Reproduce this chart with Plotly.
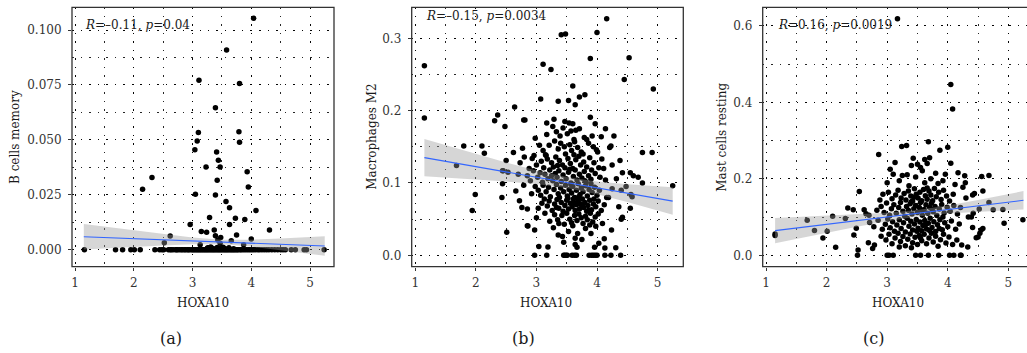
import plotly.graph_objects as go

# ---------------- data ----------------
x_ticks = [1, 2, 3, 4, 5]
a_yticks = [0.0, 0.025, 0.05, 0.075, 0.1]
b_yticks = [0.0, 0.1, 0.2, 0.3]
c_yticks = [0.0, 0.2, 0.4, 0.6]

y_titles = ["B cells memory", "Macrophages M2", "Mast cells resting"]
x_title = "HOXA10"
captions = ["(a)", "(b)", "(c)"]
stats = ["<i>R</i>=–0.11, <i>p</i>=0.04",
         "<i>R</i>=–0.15, <i>p</i>=0.0034",
         "<i>R</i>=0.16, <i>p</i>=0.0019"]

# Panel (a): B cells memory vs HOXA10
bcell_points = [
    (4.04, 0.1053), (3.58, 0.0909), (3.11, 0.0771), (3.80, 0.0756), (3.39, 0.0646),
    (3.10, 0.0533), (3.79, 0.0537), (3.08, 0.0495), (3.80, 0.0489), (3.04, 0.0455),
    (3.41, 0.0445), (3.44, 0.0407), (3.23, 0.0376), (3.47, 0.0376), (3.93, 0.0355),
    (3.42, 0.0316), (2.31, 0.0329), (3.95, 0.0285), (2.15, 0.0275), (3.05, 0.0252),
    (3.39, 0.0249), (3.57, 0.0219), (3.63, 0.0191), (4.08, 0.0178), (3.29, 0.0147),
    (3.73, 0.0143), (3.89, 0.0138), (2.96, 0.0115), (3.63, 0.0115), (4.31, 0.0090),
    (3.37, 0.0090), (3.15, 0.0083), (3.24, 0.0079), (3.75, 0.0067), (2.62, 0.0062),
    (3.39, 0.0064), (3.48, 0.0055), (4.00, 0.0049), (3.43, 0.0044), (3.66, 0.0041),
    (2.52, 0.0032), (3.47, 0.0029), (3.13, 0.0023), (3.87, 0.0023), (3.26, 0.0009),
    (3.28, 0.0008), (3.35, 0.0006), (3.42, 0.0010), (3.47, 0.0007), (3.55, 0.0005),
    (3.62, 0.0009), (3.31, 0.0012), (3.70, 0.0004), (3.25, 0.0005), (3.52, 0.0011),
    (1.16, 0.0), (1.69, 0.0), (1.81, 0.0), (1.95, 0.0), (2.01, 0.0), (2.11, 0.0),
    (2.36, 0.0), (2.44, 0.0), (2.48, 0.0), (2.51, 0.0), (2.59, 0.0), (2.62, 0.0),
    (2.64, 0.0), (2.67, 0.0), (2.71, 0.0), (2.73, 0.0), (2.75, 0.0), (2.78, 0.0),
    (2.81, 0.0), (2.83, 0.0), (2.86, 0.0), (2.88, 0.0), (2.91, 0.0), (2.93, 0.0),
    (2.95, 0.0), (2.98, 0.0), (3.00, 0.0), (3.02, 0.0), (3.04, 0.0), (3.06, 0.0),
    (3.08, 0.0), (3.10, 0.0), (3.12, 0.0), (3.14, 0.0), (3.16, 0.0), (3.18, 0.0),
    (3.20, 0.0), (3.22, 0.0), (3.24, 0.0), (3.26, 0.0), (3.28, 0.0), (3.30, 0.0),
    (3.32, 0.0), (3.34, 0.0), (3.36, 0.0), (3.38, 0.0), (3.40, 0.0), (3.42, 0.0),
    (3.44, 0.0), (3.46, 0.0), (3.48, 0.0), (3.50, 0.0), (3.52, 0.0), (3.54, 0.0),
    (3.56, 0.0), (3.58, 0.0), (3.60, 0.0), (3.62, 0.0), (3.64, 0.0), (3.66, 0.0),
    (3.68, 0.0), (3.70, 0.0), (3.72, 0.0), (3.74, 0.0), (3.76, 0.0), (3.78, 0.0),
    (3.81, 0.0), (3.83, 0.0), (3.86, 0.0), (3.89, 0.0), (3.92, 0.0), (3.95, 0.0),
    (3.98, 0.0), (4.01, 0.0), (4.04, 0.0), (4.07, 0.0), (4.11, 0.0), (4.14, 0.0),
    (4.18, 0.0), (4.22, 0.0), (4.26, 0.0), (4.30, 0.0), (4.35, 0.0), (4.40, 0.0),
    (4.45, 0.0), (4.50, 0.0), (4.54, 0.0), (4.58, 0.0), (4.68, 0.0), (4.75, 0.0),
    (4.90, 0.0), (4.94, 0.0), (5.24, 0.0),
]

# Panel (b): Macrophages M2 vs HOXA10
macro_points = [
    (1.15, 0.262), (1.15, 0.190), (4.16, 0.327), (4.00, 0.308), (3.48, 0.306),
    (3.41, 0.305), (3.11, 0.264), (3.24, 0.257), (3.89, 0.272), (4.53, 0.273),
    (4.45, 0.243), (4.93, 0.230), (3.60, 0.234), (3.07, 0.216), (3.53, 0.214),
    (3.36, 0.213), (3.64, 0.208), (3.71, 0.219), (3.80, 0.222), (2.64, 0.205),
    (2.36, 0.194), (2.31, 0.186), (2.48, 0.178), (2.79, 0.187), (2.81, 0.187),
    (3.89, 0.191), (3.97, 0.182), (4.14, 0.175), (3.17, 0.183), (3.29, 0.188),
    (3.47, 0.185), (3.54, 0.183), (3.60, 0.182), (3.65, 0.173), (1.80, 0.151),
    (2.10, 0.151), (2.14, 0.141), (1.68, 0.124), (4.75, 0.142), (5.25, 0.096),
    (2.51, 0.032), (2.45, 0.117), (2.50, 0.131), (4.28, 0.165), (4.91, 0.142),
    # y 0.16-0.18
    (2.98, 0.162), (3.17, 0.167), (3.33, 0.171), (3.51, 0.168), (3.62, 0.160),
    (3.83, 0.160), (3.92, 0.165), (3.71, 0.175), (3.44, 0.176), (3.27, 0.178),
    (3.57, 0.172), (4.07, 0.164), (3.79, 0.163), (3.39, 0.165),
    # y 0.14-0.16
    (2.62, 0.142), (2.77, 0.148), (3.11, 0.145), (3.16, 0.138), (3.21, 0.152),
    (3.36, 0.147), (3.40, 0.155), (3.46, 0.150), (3.55, 0.153), (3.58, 0.145),
    (3.63, 0.157), (3.68, 0.149), (3.74, 0.143), (3.86, 0.155), (3.94, 0.150),
    (4.01, 0.143), (4.21, 0.149), (4.23, 0.151), (3.30, 0.158), (3.05, 0.152),
    (3.48, 0.140), (3.77, 0.140), (3.99, 0.146),
    # y 0.12-0.14
    (2.73, 0.128), (2.80, 0.136), (2.93, 0.134), (2.96, 0.138), (3.00, 0.125),
    (3.08, 0.130), (3.12, 0.121), (3.18, 0.133), (3.25, 0.128), (3.28, 0.122),
    (3.32, 0.136), (3.38, 0.131), (3.43, 0.125), (3.47, 0.121), (3.52, 0.134),
    (3.56, 0.127), (3.60, 0.120), (3.65, 0.132), (3.70, 0.137), (3.73, 0.125),
    (3.78, 0.129), (3.83, 0.122), (3.88, 0.135), (3.95, 0.128), (4.03, 0.121),
    (4.08, 0.133), (4.11, 0.120), (4.25, 0.125), (4.38, 0.131), (3.15, 0.139),
    (3.35, 0.124), (3.62, 0.139), (2.88, 0.120), (3.91, 0.118),
    # y 0.10-0.12
    (2.44, 0.117), (2.53, 0.115), (2.70, 0.112), (2.85, 0.110), (2.90, 0.103),
    (2.95, 0.117), (3.02, 0.108), (3.06, 0.114), (3.10, 0.101), (3.14, 0.112),
    (3.19, 0.106), (3.22, 0.118), (3.27, 0.103), (3.31, 0.113), (3.34, 0.108),
    (3.37, 0.117), (3.41, 0.102), (3.44, 0.111), (3.49, 0.106), (3.53, 0.115),
    (3.57, 0.100), (3.61, 0.109), (3.64, 0.118), (3.67, 0.104), (3.71, 0.112),
    (3.75, 0.107), (3.79, 0.116), (3.82, 0.101), (3.86, 0.110), (3.90, 0.105),
    (3.97, 0.113), (4.05, 0.108), (4.14, 0.104), (4.32, 0.106), (4.42, 0.114),
    (4.55, 0.114), (4.60, 0.110), (4.68, 0.108), (4.75, 0.100), (3.55, 0.119),
    (3.25, 0.110), (3.80, 0.103),
    # y 0.08-0.10
    (2.44, 0.099), (2.66, 0.089), (2.79, 0.097), (2.92, 0.085), (2.98, 0.095),
    (3.03, 0.090), (3.07, 0.083), (3.11, 0.097), (3.16, 0.088), (3.20, 0.094),
    (3.23, 0.081), (3.29, 0.091), (3.33, 0.098), (3.36, 0.085), (3.40, 0.093),
    (3.45, 0.088), (3.48, 0.097), (3.51, 0.082), (3.54, 0.091), (3.58, 0.086),
    (3.60, 0.095), (3.63, 0.080), (3.66, 0.090), (3.69, 0.099), (3.72, 0.084),
    (3.74, 0.093), (3.77, 0.088), (3.81, 0.096), (3.84, 0.082), (3.87, 0.091),
    (3.92, 0.087), (3.96, 0.094), (4.00, 0.083), (4.04, 0.090), (4.16, 0.080),
    (4.19, 0.080), (4.40, 0.090), (4.56, 0.084), (4.58, 0.081), (4.48, 0.095),
    (3.38, 0.080), (3.70, 0.081), (3.57, 0.098), (3.90, 0.099), (1.99, 0.084),
    (2.43, 0.080), (4.25, 0.092),
    # y 0.06-0.08
    (2.72, 0.0755), (2.76, 0.066), (2.85, 0.064), (3.03, 0.065), (3.09, 0.072),
    (3.13, 0.078), (3.18, 0.068), (3.21, 0.075), (3.26, 0.062), (3.30, 0.071),
    (3.34, 0.077), (3.37, 0.065), (3.41, 0.073), (3.44, 0.061), (3.47, 0.069),
    (3.50, 0.076), (3.53, 0.064), (3.56, 0.072), (3.59, 0.067), (3.61, 0.078),
    (3.64, 0.062), (3.66, 0.070), (3.69, 0.075), (3.71, 0.064), (3.73, 0.071),
    (3.76, 0.078), (3.78, 0.066), (3.80, 0.073), (3.83, 0.061), (3.85, 0.069),
    (3.88, 0.076), (3.91, 0.063), (3.94, 0.071), (3.98, 0.067), (4.02, 0.075),
    (4.07, 0.062), (4.12, 0.070), (4.36, 0.067), (4.55, 0.065), (3.62, 0.073),
    (3.75, 0.068), (3.86, 0.062), (3.52, 0.079), (3.95, 0.078), (1.94, 0.062),
    (3.33, 0.066),
    # y 0.04-0.06
    (2.86, 0.0405), (3.00, 0.052), (3.14, 0.058), (3.22, 0.047), (3.30, 0.056),
    (3.35, 0.049), (3.42, 0.055), (3.46, 0.043), (3.50, 0.058), (3.55, 0.050),
    (3.58, 0.045), (3.63, 0.055), (3.67, 0.048), (3.70, 0.057), (3.74, 0.052),
    (3.77, 0.044), (3.81, 0.054), (3.84, 0.049), (3.89, 0.058), (3.93, 0.046),
    (3.97, 0.053), (4.02, 0.057), (4.09, 0.044), (4.42, 0.0525), (4.40, 0.050),
    (3.98, 0.040), (3.37, 0.044), (3.60, 0.041), (3.88, 0.042),
    # y 0.00-0.04
    (2.97, 0.035), (3.04, 0.012), (3.19, 0.0115), (3.36, 0.028), (3.43, 0.026),
    (3.45, 0.018), (3.64, 0.0235), (3.64, 0.015), (3.67, 0.011), (3.68, 0.030),
    (3.81, 0.037), (3.96, 0.011), (4.03, 0.0165), (4.12, 0.023), (4.13, 0.010),
    (4.24, 0.035), (4.31, 0.0105), (3.53, 0.033), (3.28, 0.038), (3.75, 0.022),
    (3.90, 0.030), (2.85, 0.041),
    # zero row
    (2.97, 0.0), (3.17, 0.0), (3.45, 0.0), (3.47, 0.0), (3.49, 0.0), (3.51, 0.0),
    (3.59, 0.0), (3.63, 0.0), (3.66, 0.0), (3.87, 0.0), (3.91, 0.0), (3.94, 0.0),
    (3.97, 0.0), (4.00, 0.0), (4.13, 0.0), (4.23, 0.0), (4.39, 0.0),
]

# Panel (c): Mast cells resting vs HOXA10
mast_points = [
    (3.17, 0.619), (4.05, 0.447), (4.08, 0.383), (3.68, 0.297), (4.00, 0.283),
    (3.24, 0.285), (3.32, 0.287), (2.86, 0.264), (3.87, 0.275), (2.54, 0.167),
    (1.15, 0.056), (1.15, 0.052), (1.68, 0.092), (1.80, 0.065), (1.94, 0.045),
    (2.01, 0.063), (2.10, 0.102), (2.15, 0.021), (2.31, 0.096), (2.35, 0.124),
    (2.44, 0.119), (2.49, 0.071), (2.45, 0.053), (2.52, 0.014), (2.62, 0.119),
    (2.65, 0.109), (2.71, 0.086), (2.76, 0.018), (2.79, 0.027), (2.69, 0.033),
    (5.24, 0.093), (4.93, 0.084), (4.91, 0.120), (4.75, 0.119), (4.68, 0.209),
    (4.56, 0.206), (4.58, 0.168), (4.58, 0.070), (4.47, 0.046), (4.41, 0.158),
    (4.42, 0.110), (4.28, 0.208), (4.29, 0.190), (4.17, 0.216), (4.53, 0.058),
    (4.68, 0.138), (4.52, 0.121), (4.44, 0.162), (4.55, 0.066), (4.33, 0.022),
    # y 0.18-0.25
    (3.13, 0.243), (3.05, 0.225), (3.43, 0.254), (3.62, 0.251), (3.70, 0.255),
    (3.25, 0.209), (3.33, 0.211), (3.40, 0.235), (3.50, 0.238), (3.55, 0.230),
    (3.58, 0.221), (3.66, 0.240), (3.72, 0.200), (3.80, 0.215), (3.92, 0.195),
    (3.96, 0.212), (4.05, 0.241), (4.12, 0.185), (3.00, 0.190), (3.20, 0.195),
    (3.47, 0.205), (3.62, 0.190), (3.84, 0.188), (3.10, 0.212), (3.36, 0.182),
    # y 0.14-0.18
    (2.93, 0.160), (3.02, 0.165), (3.08, 0.148), (3.14, 0.158), (3.18, 0.170),
    (3.23, 0.150), (3.28, 0.162), (3.31, 0.145), (3.35, 0.168), (3.39, 0.155),
    (3.42, 0.142), (3.45, 0.174), (3.48, 0.160), (3.51, 0.150), (3.54, 0.165),
    (3.57, 0.143), (3.60, 0.172), (3.63, 0.156), (3.66, 0.147), (3.69, 0.168),
    (3.72, 0.158), (3.75, 0.143), (3.78, 0.175), (3.81, 0.153), (3.85, 0.165),
    (3.89, 0.146), (3.93, 0.170), (3.98, 0.155), (4.03, 0.142), (4.09, 0.160),
    (4.25, 0.178), (4.30, 0.150), (3.44, 0.152), (3.66, 0.176), (2.88, 0.145),
    # y 0.10-0.14
    (2.83, 0.118), (2.90, 0.128), (2.95, 0.112), (2.99, 0.137), (3.04, 0.105),
    (3.07, 0.122), (3.11, 0.132), (3.15, 0.110), (3.19, 0.125), (3.22, 0.138),
    (3.26, 0.115), (3.29, 0.102), (3.32, 0.128), (3.35, 0.118), (3.38, 0.135),
    (3.41, 0.108), (3.44, 0.122), (3.47, 0.130), (3.50, 0.112), (3.53, 0.125),
    (3.55, 0.138), (3.58, 0.105), (3.61, 0.120), (3.64, 0.132), (3.67, 0.110),
    (3.70, 0.126), (3.73, 0.136), (3.76, 0.114), (3.79, 0.128), (3.82, 0.104),
    (3.86, 0.121), (3.90, 0.133), (3.94, 0.111), (3.99, 0.126), (4.04, 0.115),
    (4.10, 0.130), (4.16, 0.108), (4.21, 0.125), (4.34, 0.100), (4.39, 0.100),
    (2.70, 0.105), (3.40, 0.140), (3.57, 0.118), (3.74, 0.120), (3.92, 0.100),
    # y 0.06-0.10
    (2.78, 0.075), (2.85, 0.092), (2.92, 0.068), (2.97, 0.081), (3.01, 0.095),
    (3.05, 0.072), (3.09, 0.088), (3.12, 0.063), (3.16, 0.079), (3.20, 0.093),
    (3.23, 0.070), (3.27, 0.085), (3.30, 0.061), (3.33, 0.097), (3.36, 0.076),
    (3.39, 0.089), (3.42, 0.066), (3.45, 0.082), (3.48, 0.094), (3.51, 0.071),
    (3.54, 0.087), (3.57, 0.064), (3.59, 0.078), (3.62, 0.091), (3.65, 0.069),
    (3.68, 0.084), (3.71, 0.097), (3.74, 0.073), (3.77, 0.088), (3.80, 0.062),
    (3.83, 0.080), (3.87, 0.093), (3.91, 0.067), (3.95, 0.085), (4.00, 0.075),
    (4.06, 0.090), (4.13, 0.068), (4.19, 0.082), (4.41, 0.073), (3.49, 0.063),
    (3.63, 0.079), (3.86, 0.070), (3.70, 0.065),
    # y 0.02-0.06
    (2.90, 0.050), (2.98, 0.040), (3.03, 0.055), (3.08, 0.030), (3.13, 0.045),
    (3.18, 0.058), (3.22, 0.036), (3.26, 0.049), (3.30, 0.025), (3.34, 0.042),
    (3.38, 0.056), (3.42, 0.033), (3.46, 0.047), (3.50, 0.028), (3.53, 0.052),
    (3.57, 0.038), (3.61, 0.055), (3.65, 0.030), (3.69, 0.045), (3.73, 0.058),
    (3.76, 0.035), (3.80, 0.050), (3.84, 0.024), (3.88, 0.041), (3.93, 0.055),
    (3.97, 0.032), (4.02, 0.048), (4.08, 0.028), (4.15, 0.040), (4.23, 0.027),
    (4.50, 0.048), (3.55, 0.045), (3.40, 0.020), (3.20, 0.022),
    # zero row
    (2.51, 0.0), (3.00, 0.0), (3.03, 0.0), (3.10, 0.0), (3.47, 0.0), (3.55, 0.0),
    (3.68, 0.0), (3.85, 0.0), (4.03, 0.0), (4.10, 0.0), (4.21, 0.0), (4.22, 0.0),
]

# Fitted line and 95% band at these HOXA10 values
fit_x = [1.15, 1.5, 2.0, 2.5, 3.0, 3.5, 4.0, 4.5, 5.25]
a_fit = [0.0059, 0.00554, 0.00503, 0.00452, 0.00401, 0.00349, 0.00298, 0.00247, 0.0017]
a_lo = [0.00005, 0.00054, 0.00122, 0.00187, 0.00243, 0.00249, 0.00140, -0.00018, -0.0027]
a_hi = [0.01175, 0.01054, 0.00884, 0.00717, 0.00559, 0.00449, 0.00456, 0.00512, 0.0061]
b_fit = [0.1350, 0.1299, 0.1225, 0.1152, 0.1079, 0.1006, 0.0932, 0.0859, 0.0749]
b_lo = [0.1092, 0.1075, 0.1049, 0.1020, 0.0985, 0.0931, 0.0844, 0.0736, 0.0559]
b_hi = [0.1608, 0.1523, 0.1401, 0.1284, 0.1173, 0.1081, 0.1020, 0.0982, 0.0940]
c_fit = [0.0645, 0.0713, 0.0810, 0.0907, 0.1004, 0.1101, 0.1198, 0.1295, 0.1440]
c_lo = [0.0317, 0.0429, 0.0588, 0.0744, 0.0892, 0.1016, 0.1094, 0.1144, 0.1200]
c_hi = [0.0973, 0.0997, 0.1032, 0.1070, 0.1116, 0.1186, 0.1302, 0.1447, 0.1680]

# ---------------- layout (pixels of a 1027x353 canvas) ----------------
W, H = 1027, 353
FONT = "DejaVu Serif"
panels = [
    dict(pts=bcell_points, fit=a_fit, lo=a_lo, hi=a_hi, yt=a_yticks, yfmt=".3f",
         px=(72, 334), xr=[0.949, 5.408], yr=[-0.00774, 0.11033], ydt=0.025,
         ytitle_x=15, xtitle_x=203.3, cap_x=171, stat_x=83, stat_y=25, right=True),
    dict(pts=macro_points, fit=b_fit, lo=b_lo, hi=b_hi, yt=b_yticks, yfmt=".1f",
         px=(411.7, 683.3), xr=[0.9405, 5.425], yr=[-0.01576, 0.3429], ydt=0.1,
         ytitle_x=371.7, xtitle_x=545.5, cap_x=523, stat_x=424, stat_y=16, right=True),
    dict(pts=mast_points, fit=c_fit, lo=c_lo, hi=c_hi, yt=c_yticks, yfmt=".1f",
         px=(762.7, 1027), xr=[0.9455, 5.308], yr=[-0.0298, 0.6489], ydt=0.2,
         ytitle_x=721.7, xtitle_x=897.5, cap_x=873, stat_x=775.7, stat_y=25, right=False),
]
top_px, bot_px = 7.3, 266.7

fig = go.Figure()
annotations = []
shapes = []
grid_style = dict(showgrid=True, gridcolor="rgba(0,0,0,0.85)", gridwidth=1, griddash="1.5px,7px")

for i, p in enumerate(panels):
    n = "" if i == 0 else str(i + 1)
    xa, ya = "x" + n, "y" + n
    xs = [q[0] for q in p["pts"]]
    ys = [q[1] for q in p["pts"]]
    fig.add_trace(go.Scatter(x=xs, y=ys, mode="markers", xaxis=xa, yaxis=ya,
                             marker=dict(color="black", size=5.5, line=dict(width=0)),
                             showlegend=False, hoverinfo="skip"))
    fig.add_trace(go.Scatter(x=fit_x + fit_x[::-1], y=p["hi"] + p["lo"][::-1],
                             fill="toself", fillcolor="rgba(153,153,153,0.4)",
                             line=dict(width=0), mode="lines", xaxis=xa, yaxis=ya,
                             showlegend=False, hoverinfo="skip"))
    fig.add_trace(go.Scatter(x=fit_x, y=p["fit"], mode="lines", xaxis=xa, yaxis=ya,
                             line=dict(color="#3366FF", width=1.1),
                             showlegend=False, hoverinfo="skip"))

    x0, x1 = p["px"][0] / W, p["px"][1] / W
    axis_common = dict(showline=False, zeroline=False, ticks="outside", ticklen=3,
                       tickcolor="#333333", tickwidth=1, automargin=False,
                       tickfont=dict(family=FONT, size=12, color="#333333"), **grid_style)
    fig.update_layout(**{
        ("xaxis" + n): dict(domain=[x0, min(x1, 1.0)], range=p["xr"], anchor=ya,
                            tickvals=x_ticks, ticklabelstandoff=2,
                            minor=dict(dtick=0.5, tick0=0, ticks="", **grid_style),
                            **axis_common),
        ("yaxis" + n): dict(domain=[1 - bot_px / H, 1 - top_px / H], range=p["yr"],
                            anchor=xa, tickvals=p["yt"], tickformat=p["yfmt"],
                            ticklabelstandoff=4,
                            minor=dict(dtick=p["ydt"] / 2, tick0=0, ticks="", **grid_style),
                            **axis_common),
    })
    # frame
    if p["right"]:
        shapes.append(dict(type="rect", xref=xa + " domain", yref=ya + " domain",
                           x0=0, x1=1, y0=0, y1=1, line=dict(color="#333333", width=1.3),
                           layer="above"))
    else:
        shapes.append(dict(type="rect", xref=xa + " domain", yref=ya + " domain",
                           x0=0, x1=1.05, y0=0, y1=1, line=dict(color="#333333", width=1.3),
                           layer="above"))
    yc = 1 - ((top_px + bot_px) / 2) / H
    annotations.append(dict(text=y_titles[i], x=p["ytitle_x"] / W, y=yc, xref="paper",
                            yref="paper", textangle=-90, showarrow=False,
                            xanchor="center", yanchor="middle",
                            font=dict(family=FONT, size=12, color="#1a1a1a")))
    annotations.append(dict(text=x_title, x=p["xtitle_x"] / W, y=1 - 303 / H, xref="paper",
                            yref="paper", showarrow=False, xanchor="center", yanchor="middle",
                            font=dict(family=FONT, size=12, color="#1a1a1a")))
    annotations.append(dict(text=captions[i], x=p["cap_x"] / W, y=1 - 338 / H, xref="paper",
                            yref="paper", showarrow=False, xanchor="center", yanchor="middle",
                            font=dict(family=FONT, size=16, color="#1a1a1a")))
    annotations.append(dict(text=stats[i], x=p["stat_x"] / W, y=1 - p["stat_y"] / H,
                            xref="paper", yref="paper", showarrow=False,
                            xanchor="left", yanchor="middle",
                            font=dict(family=FONT, size=12, color="#1a1a1a")))

fig.update_layout(width=W, height=H, margin=dict(l=0, r=0, t=0, b=0),
                  paper_bgcolor="white", plot_bgcolor="white",
                  annotations=annotations, shapes=shapes, showlegend=False)

fig.write_html("out.html")
